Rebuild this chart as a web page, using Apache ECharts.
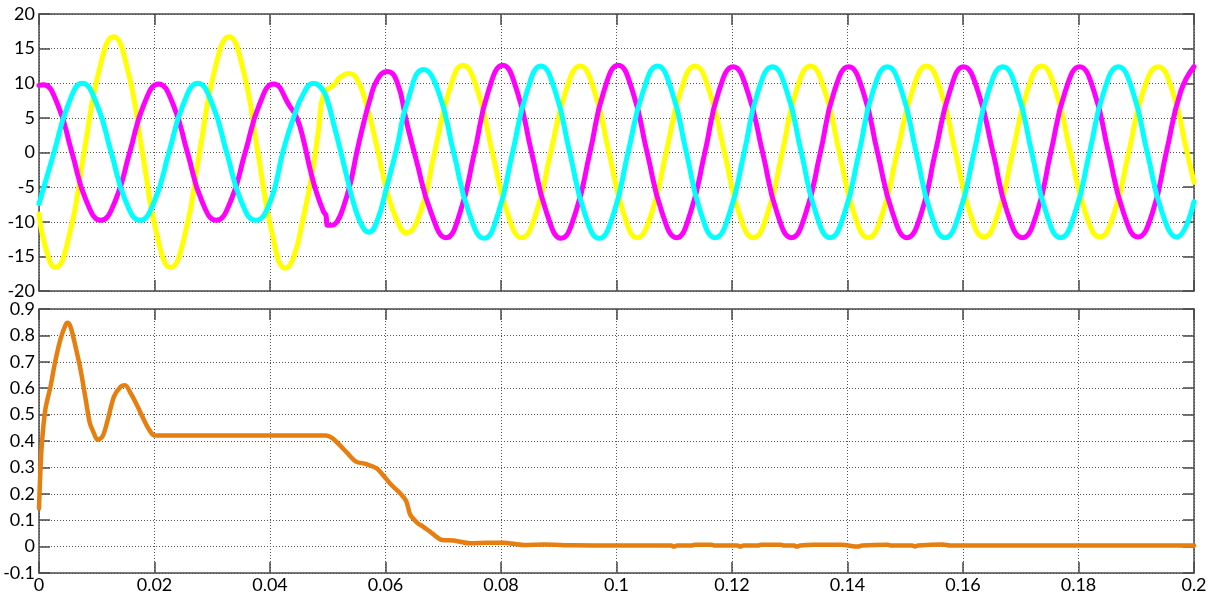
<!DOCTYPE html>
<html>
<head>
<meta charset="utf-8">
<script src="https://cdn.jsdelivr.net/npm/echarts@6/dist/echarts.min.js"></script>
<style>
  html, body { margin: 0; padding: 0; background: #fff; }
  #chart { width: 1215px; height: 594px; }
</style>
</head>
<body>
<div id="chart"></div>
<script>
const xTickLabels = ["0", "0.02", "0.04", "0.06", "0.08", "0.1", "0.12", "0.14", "0.16", "0.18", "0.2"];
const topTickLabels = ["-20", "-15", "-10", "-5", "0", "5", "10", "15", "20"];
const bottomTickLabels = ["-0.1", "0", "0.1", "0.2", "0.3", "0.4", "0.5", "0.6", "0.7", "0.8", "0.9"];

// [time, value]
const yellowPhase = [
  [0, -8.9], [0.0014, -14.5], [0.0028, -16.6], [0.0053, -11.8], [0.0078, 0], [0.0104, 11.8],
  [0.0129, 16.7], [0.0154, 11.8], [0.0179, 0], [0.0204, -11.8], [0.0228, -16.6], [0.0253, -11.8],
  [0.0278, 0], [0.0304, 11.8], [0.0329, 16.7], [0.0354, 11.8], [0.0379, 0], [0.0404, -11.8],
  [0.0427, -16.7], [0.0441, -15.1], [0.0458, -9.3], [0.0473, -3.0], [0.0484, 3.2], [0.0493, 8.5],
  [0.051, 9.7], [0.0522, 10.9], [0.0536, 11.4], [0.055, 10.7], [0.0568, 6.6], [0.0586, 0.5],
  [0.0602, -5.4], [0.062, -9.8], [0.0636, -11.6], [0.0661, -8.5], [0.0685, 0], [0.071, 8.8],
  [0.0734, 12.6], [0.076, 8.8], [0.0785, 0], [0.0811, -8.7], [0.0836, -12.3], [0.0861, -8.7],
  [0.0886, 0], [0.0912, 8.8], [0.0937, 12.5], [0.0962, 8.8], [0.0987, 0], [0.1012, -8.7],
  [0.1036, -12.3], [0.1061, -8.7], [0.1086, 0], [0.1111, 8.8], [0.1136, 12.5], [0.1161, 8.8],
  [0.1187, 0], [0.1212, -8.7], [0.1237, -12.3], [0.1262, -8.7], [0.1287, 0], [0.1311, 8.8],
  [0.1336, 12.5], [0.1361, 8.8], [0.1386, 0], [0.1411, -8.7], [0.1436, -12.3], [0.1461, -8.7],
  [0.1486, 0], [0.1512, 8.8], [0.1537, 12.5], [0.1562, 8.8], [0.1587, 0], [0.1612, -8.7],
  [0.1636, -12.2], [0.1661, -8.7], [0.1686, 0], [0.1711, 8.8], [0.1736, 12.5], [0.1761, 8.8],
  [0.1786, 0], [0.1812, -8.7], [0.1837, -12.2], [0.1862, -8.7], [0.1887, 0], [0.1912, 8.8],
  [0.1938, 12.4], [0.1963, 8.8], [0.1988, 0], [0.2, -4.3]
];

const magentaPhase = [
  [0, 9.7], [0.0007, 9.8], [0.0032, 7.0], [0.0057, 0], [0.0082, -7.0], [0.0107, -9.8],
  [0.0132, -7.0], [0.0157, 0], [0.0182, 7.0], [0.0207, 9.9], [0.0232, 7.0], [0.0257, 0],
  [0.0282, -7.0], [0.0307, -9.8], [0.0332, -7.0], [0.0357, 0], [0.0382, 7.0], [0.0406, 9.9],
  [0.0435, 6.6], [0.0447, 4.9], [0.0458, 1.8], [0.047, -2.6], [0.0481, -5.9], [0.0493, -8.6],
  [0.0497, -9.1], [0.0499, -10.5], [0.0507, -10.5], [0.0516, -10.0], [0.0527, -7.9], [0.0539, -4.5],
  [0.055, -0.1], [0.0562, 4.2], [0.0573, 7.6], [0.0585, 10.4], [0.0603, 11.7], [0.062, 10.2],
  [0.0637, 4.2], [0.0653, -1.0], [0.0679, -8.7], [0.0705, -12.3], [0.0729, -8.7], [0.0754, 0],
  [0.0778, 8.8], [0.0803, 12.6], [0.0828, 8.8], [0.0853, 0], [0.0879, -8.7], [0.0904, -12.4],
  [0.0929, -8.7], [0.0954, 0], [0.0978, 8.8], [0.1003, 12.6], [0.1028, 8.8], [0.1053, 0],
  [0.1079, -8.7], [0.1104, -12.3], [0.1128, -8.7], [0.1153, 0], [0.1177, 8.8], [0.1202, 12.4],
  [0.1227, 8.8], [0.1253, 0], [0.1278, -8.7], [0.1303, -12.3], [0.1328, -8.7], [0.1353, 0],
  [0.1377, 8.8], [0.1402, 12.4], [0.1427, 8.8], [0.1452, 0], [0.1478, -8.7], [0.1503, -12.3],
  [0.1528, -8.7], [0.1552, 0], [0.1577, 8.8], [0.1601, 12.4], [0.1626, 8.8], [0.1652, 0],
  [0.1677, -8.7], [0.1703, -12.3], [0.1728, -8.7], [0.1752, 0], [0.1777, 8.8], [0.1802, 12.4],
  [0.1827, 8.8], [0.1852, 0], [0.1878, -8.7], [0.1903, -12.2], [0.1928, -8.7], [0.1952, 0],
  [0.1977, 8.8], [0.2, 12.4]
];

const cyanPhase = [
  [0, -7.4], [0.0026, 0], [0.0051, 7.0], [0.0075, 10.0], [0.01, 7.0], [0.0125, 0],
  [0.015, -7.0], [0.0175, -9.8], [0.02, -7.0], [0.0225, 0], [0.025, 7.0], [0.0275, 10.0],
  [0.03, 7.0], [0.0325, 0], [0.035, -7.0], [0.0375, -9.8], [0.04, -7.2], [0.0423, 0.3],
  [0.0441, 5.1], [0.0458, 8.5], [0.0475, 10.0], [0.049, 9.2], [0.0499, 7.6], [0.051, 4.2],
  [0.0522, 0.3], [0.0533, -3.5], [0.0545, -7.4], [0.0559, -10.5], [0.0571, -11.5], [0.0585, -10.0],
  [0.0602, -5.0], [0.062, 0.8], [0.0637, 7.1], [0.0666, 12.0], [0.0692, 8.7], [0.0718, 0],
  [0.0745, -8.8], [0.0771, -12.4], [0.0795, -8.8], [0.082, 0], [0.0845, 8.8], [0.0869, 12.5],
  [0.0894, 8.8], [0.0919, 0], [0.0945, -8.8], [0.097, -12.4], [0.0995, -8.8], [0.102, 0],
  [0.1046, 8.8], [0.1071, 12.5], [0.1096, 8.8], [0.1121, 0], [0.1146, -8.7], [0.1171, -12.3],
  [0.1196, -8.7], [0.1221, 0], [0.1245, 8.8], [0.127, 12.4], [0.1295, 8.8], [0.132, 0],
  [0.1345, -8.7], [0.137, -12.3], [0.1395, -8.7], [0.142, 0], [0.1444, 8.8], [0.1469, 12.4],
  [0.1494, 8.8], [0.1519, 0], [0.1544, -8.7], [0.1569, -12.3], [0.1594, -8.7], [0.1619, 0],
  [0.1644, 8.8], [0.1669, 12.4], [0.1694, 8.8], [0.1719, 0], [0.1744, -8.7], [0.1769, -12.3],
  [0.1794, -8.7], [0.1819, 0], [0.1844, 8.8], [0.1869, 12.4], [0.1894, 8.8], [0.1919, 0],
  [0.1945, -8.7], [0.197, -12.2], [0.2, -7.1]
];

const orangeTrace = [
  [0, 0.145], [0.0002, 0.265], [0.0005, 0.39], [0.0011, 0.52], [0.002, 0.607], [0.0028, 0.70],
  [0.0037, 0.784], [0.0046, 0.84], [0.005, 0.848], [0.0055, 0.83], [0.0063, 0.76], [0.0072, 0.67],
  [0.0081, 0.556], [0.0088, 0.468], [0.0095, 0.43], [0.0101, 0.405], [0.011, 0.417], [0.0119, 0.48],
  [0.013, 0.569], [0.0142, 0.607], [0.0149, 0.611], [0.0159, 0.58], [0.0171, 0.53], [0.0183, 0.474],
  [0.0191, 0.442], [0.02, 0.421], [0.0497, 0.421], [0.0508, 0.411], [0.052, 0.386], [0.0534, 0.354],
  [0.0549, 0.322], [0.0566, 0.313], [0.0584, 0.297], [0.0598, 0.265], [0.061, 0.234], [0.0624, 0.205],
  [0.0636, 0.171], [0.0643, 0.12], [0.0656, 0.088], [0.0665, 0.076], [0.0677, 0.057], [0.0698, 0.025],
  [0.0718, 0.023], [0.0747, 0.013], [0.0775, 0.015], [0.0804, 0.015], [0.0839, 0.006], [0.0874, 0.008],
  [0.0925, 0.005], [0.1, 0.004], [0.1095, 0.004], [0.1099, 0.0], [0.1105, 0.004], [0.113, 0.004],
  [0.1135, 0.007], [0.1165, 0.007], [0.117, 0.004], [0.121, 0.004], [0.1214, 0.0], [0.122, 0.004],
  [0.1245, 0.004], [0.125, 0.007], [0.1285, 0.007], [0.129, 0.004], [0.1308, 0.004], [0.1312, 0.0],
  [0.1318, 0.004], [0.134, 0.007], [0.139, 0.007], [0.1418, 0.0], [0.1425, 0.004], [0.147, 0.007],
  [0.1475, 0.004], [0.1512, 0.004], [0.1517, 0.0], [0.1522, 0.004], [0.1565, 0.008], [0.1578, 0.004],
  [0.2, 0.004]
];

const chart = echarts.init(document.getElementById("chart"), null, { renderer: "canvas" });

const frameColor = "#4a4a4a";
const gridLineColor = "#555555";
const labelFont = { fontFamily: "Lato", fontSize: 18, color: "#000000" };

function mainX(gridIndex, showLabels) {
  return {
    type: "value", gridIndex, min: 0, max: 0.2, interval: 0.02, position: "bottom",
    axisLine: { show: true, onZero: false, lineStyle: { color: frameColor, width: 1.5 } },
    axisTick: { show: true, inside: true, length: 11, lineStyle: { color: frameColor, width: 1.5 } },
    axisLabel: Object.assign({ show: showLabels, margin: 3, showMaxLabel: true, showMinLabel: true,
      formatter: (v) => xTickLabels[Math.round(v / 0.02)] }, labelFont),
    splitLine: { show: true, lineStyle: { color: gridLineColor, width: 1, type: [1, 2] } }
  };
}

function mirrorX(gridIndex) {
  return {
    type: "value", gridIndex, min: 0, max: 0.2, interval: 0.02, position: "top",
    axisLine: { show: true, onZero: false, lineStyle: { color: frameColor, width: 1.5 } },
    axisTick: { show: true, inside: true, length: 11, lineStyle: { color: frameColor, width: 1.5 } },
    axisLabel: { show: false }, splitLine: { show: false }
  };
}

function mainY(gridIndex, min, max, interval, labels) {
  return {
    type: "value", gridIndex, min, max, interval, position: "left",
    axisLine: { show: true, onZero: false, lineStyle: { color: frameColor, width: 1.5 } },
    axisTick: { show: true, inside: true, length: 11, lineStyle: { color: frameColor, width: 1.5 } },
    axisLabel: Object.assign({ show: true, margin: 4, showMaxLabel: true, showMinLabel: true,
      formatter: (v) => labels[Math.round((v - min) / interval)] }, labelFont),
    splitLine: { show: true, lineStyle: { color: gridLineColor, width: 1, type: [1, 2] } }
  };
}

function mirrorY(gridIndex, min, max, interval) {
  return {
    type: "value", gridIndex, min, max, interval, position: "right",
    axisLine: { show: true, onZero: false, lineStyle: { color: frameColor, width: 1.5 } },
    axisTick: { show: true, inside: true, length: 11, lineStyle: { color: frameColor, width: 1.5 } },
    axisLabel: { show: false }, splitLine: { show: false }
  };
}

function trace(name, data, color, width, xIdx, yIdx, smooth) {
  return {
    name, type: "line", data, xAxisIndex: xIdx, yAxisIndex: yIdx,
    showSymbol: false, smooth, clip: true,
    lineStyle: { color, width, cap: "round", join: "round" }
  };
}

chart.setOption({
  animation: false,
  backgroundColor: "#ffffff",
  grid: [
    { left: 39, top: 14, width: 1155, height: 277 },
    { left: 39, top: 309, width: 1155, height: 264 }
  ],
  xAxis: [mainX(0, false), mirrorX(0), mainX(1, true), mirrorX(1)],
  yAxis: [
    mainY(0, -20, 20, 5, topTickLabels), mirrorY(0, -20, 20, 5),
    mainY(1, -0.1, 0.9, 0.1, bottomTickLabels), mirrorY(1, -0.1, 0.9, 0.1)
  ],
  series: [
    trace("a", yellowPhase, "#ffff00", 5, 0, 0, 0.5),
    trace("b", magentaPhase, "#ff00ff", 5, 0, 0, 0.5),
    trace("c", cyanPhase, "#00ffff", 5, 0, 0, 0.5),
    trace("d", orangeTrace, "#e67e10", 4.5, 2, 2, 0.3)
  ]
});
</script>
</body>
</html>
